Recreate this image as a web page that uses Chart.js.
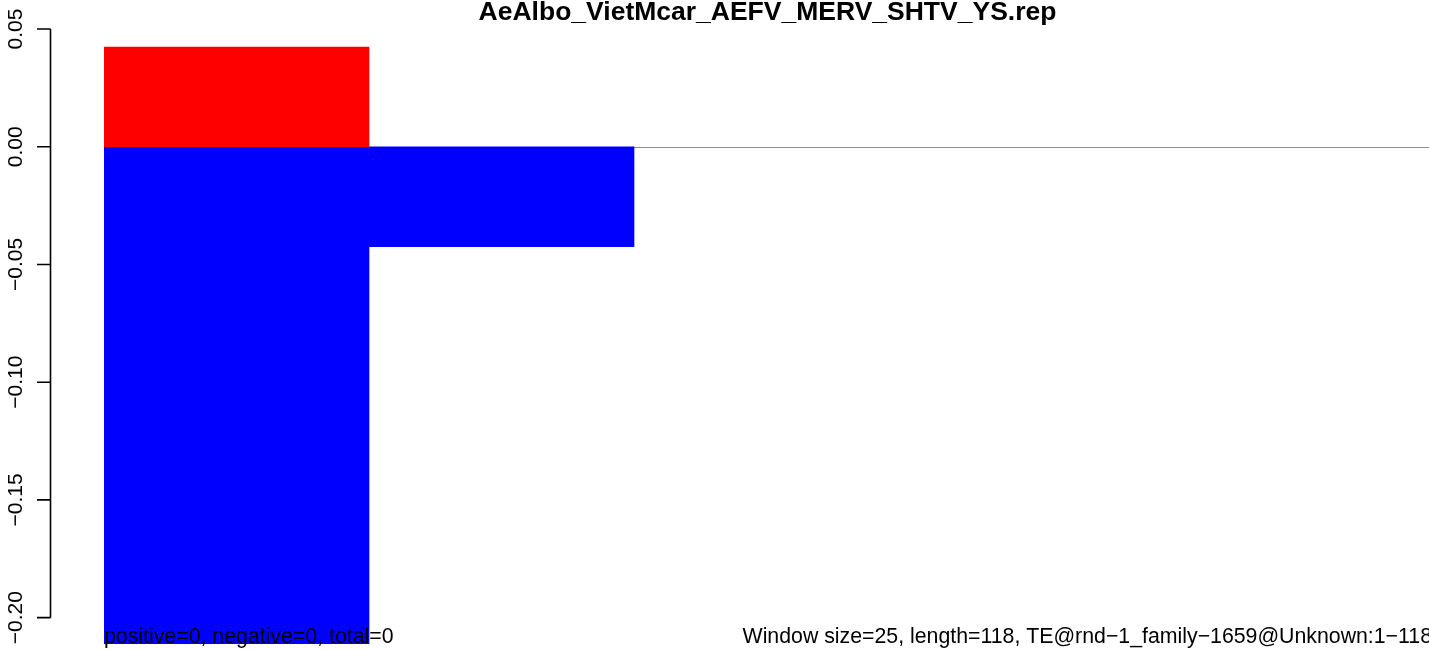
<!DOCTYPE html>
<html lang="en">
<head>
  <meta charset="UTF-8" />
  <title>AeAlbo_VietMcar_AEFV_MERV_SHTV_YS.rep</title>
  <script src="https://cdn.jsdelivr.net/npm/chart.js"></script>
  <style>
    html, body { margin: 0; padding: 0; background: #fff; }
    #wrap { width: 1429px; height: 649px; position: relative; }
  </style>
</head>
<body>
  <div id="wrap"><canvas id="repChart"></canvas></div>

  <script>
    // windows of 25 bp along a 118 bp element
    const windows = ["1-25", "26-50", "51-75", "76-100", "101-118"];
    const positive = [0.0423, 0, 0, 0, 0];
    const negative = [-0.2113, -0.0425, 0, 0, 0];
    const yTicks = [0.05, 0.00, -0.05, -0.10, -0.15, -0.20];

    const title = "AeAlbo_VietMcar_AEFV_MERV_SHTV_YS.rep";
    const footLeft = "positive=0, negative=0, total=0";
    const footRight = "Window size=25, length=118, TE@rnd\u22121_family\u22121659@Unknown:1\u2212118";

    const FONT = "'Liberation Sans', Arial, Helvetica, sans-serif";

    function fmt(v) {
      const s = Math.abs(v).toFixed(2);
      return v < 0 ? "\u2212" + s : s;
    }

    // empty windows get no visible sliver
    function fill(color) {
      return c => (c.raw === 0 ? "rgba(0,0,0,0)" : color);
    }

    // zero line, drawn under the bars
    const zeroLine = {
      id: "zeroLine",
      beforeDatasetsDraw(chart) {
        const { ctx, chartArea, scales } = chart;
        const y = Math.round(scales.y.getPixelForValue(0)) + 0.5;
        ctx.save();
        ctx.strokeStyle = "#8c8c8c";
        ctx.lineWidth = 1.2;
        ctx.beginPath();
        ctx.moveTo(chartArea.left, y);
        ctx.lineTo(chartArea.right, y);
        ctx.stroke();
        ctx.restore();
      }
    };

    // R-style left axis + title + margin texts
    const rAxis = {
      id: "rAxis",
      afterDraw(chart) {
        const { ctx, chartArea, scales } = chart;
        const ys = scales.y;
        const axX = 50.5;
        const top = ys.getPixelForValue(yTicks[0]);
        const bot = ys.getPixelForValue(yTicks[yTicks.length - 1]);
        ctx.save();
        ctx.strokeStyle = "#000";
        ctx.lineWidth = 1.6;
        ctx.beginPath();
        ctx.moveTo(axX, top);
        ctx.lineTo(axX, bot);
        yTicks.forEach(v => {
          const y = ys.getPixelForValue(v);
          ctx.moveTo(axX, y);
          ctx.lineTo(37, y);
        });
        ctx.stroke();

        ctx.fillStyle = "#000";
        ctx.font = "21px " + FONT;
        ctx.textAlign = "center";
        ctx.textBaseline = "alphabetic";
        yTicks.forEach(v => {
          const y = ys.getPixelForValue(v);
          ctx.save();
          ctx.translate(22, y);
          ctx.rotate(-Math.PI / 2);
          ctx.fillText(fmt(v), 0, 0);
          ctx.restore();
        });

        const cx = (chartArea.left + chartArea.right + 2) / 2;
        ctx.font = "bold 26.5px " + FONT;
        ctx.textAlign = "center";
        ctx.fillText(title, cx, 20);

        ctx.font = "21.3px " + FONT;
        ctx.textAlign = "left";
        ctx.fillText(footLeft, chartArea.left, 643);
        ctx.textAlign = "right";
        ctx.fillText(footRight, chartArea.right + 3, 643);
        ctx.restore();
      }
    };

    const repChart = new Chart(document.getElementById("repChart"), {
      type: "bar",
      data: {
        labels: windows,
        datasets: [{
          label: "positive",
          data: positive,
          backgroundColor: fill("#ff0000"),
          borderWidth: 0
        }, {
          label: "negative",
          data: negative,
          backgroundColor: fill("#0000ff"),
          borderWidth: 0
        }]
      },
      options: {
        responsive: true,
        maintainAspectRatio: false,
        animation: false,
        layout: { padding: { left: 104, right: 0, top: 29, bottom: 5 } },
        plugins: {
          legend: { display: false },
          tooltip: { enabled: false },
          title: { display: false }
        },
        datasets: {
          bar: { categoryPercentage: 1, barPercentage: 1 }
        },
        scales: {
          x: { stacked: true, display: false, offset: true },
          y: { stacked: true, display: false, min: -0.2112, max: 0.05 }
        }
      },
      plugins: [zeroLine, rAxis]
    });
  </script>
</body>
</html>
